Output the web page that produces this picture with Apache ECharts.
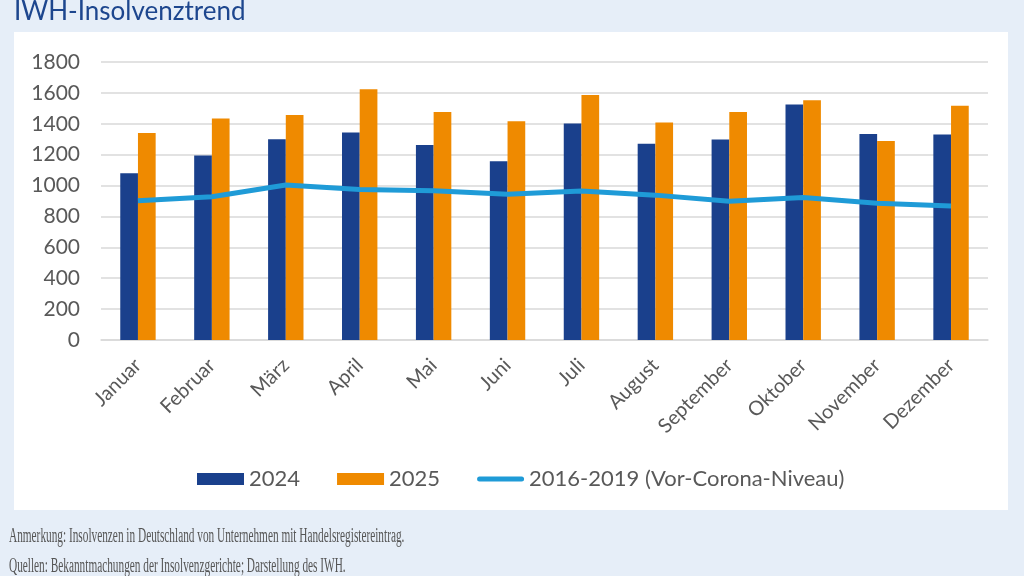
<!DOCTYPE html>
<html>

<head>
    <meta charset="UTF-8" />
    <title>IWH-Insolvenztrend</title>
    <style>
        html, body { margin: 0; padding: 0; background: #e6eef8; }
        #A { width: 1024px; height: 576px; }
    </style>
</head>

<body>
    <div id="A"></div>
    <script src="https://cdn.jsdelivr.net/npm/echarts@6/dist/echarts.min.js"></script>
    <script>
        // Monate und Werte
        var months = ['Januar', 'Februar', 'März', 'April', 'Mai', 'Juni', 'Juli', 'August', 'September', 'Oktober', 'November', 'Dezember'];
        var values2024 = [1080, 1195, 1300, 1343, 1263, 1158, 1402, 1270, 1298, 1525, 1334, 1330];
        var values2025 = [1341, 1434, 1457, 1624, 1477, 1417, 1587, 1408, 1477, 1552, 1289, 1516];
        var preCorona = [901, 927, 1003, 975, 966, 944, 964, 938, 899, 922, 885, 868];
        var yTicks = { min: 0, max: 1800, interval: 200 };

        var fontMain = 'Lato, "Open Sans", sans-serif';
        var grey = '#595959';
        var footFont = '20px "Liberation Serif", serif';

        var myChart = echarts.init(document.getElementById('A'));
        var option = {
            backgroundColor: '#e6eef8',
            animation: false,
            title: {
                text: 'IWH-Insolvenztrend',
                left: 14,
                top: -1,
                padding: 0,
                textStyle: { fontFamily: fontMain, fontSize: 26, fontWeight: 'normal', color: '#1d468e' }
            },
            graphic: [
                {
                    type: 'rect', z: -10, silent: true,
                    shape: { x: 14, y: 32, width: 994, height: 478 },
                    style: { fill: '#ffffff' }
                },
                {
                    type: 'text', left: 9, top: 527, scaleX: 0.565,
                    style: {
                        text: 'Anmerkung: Insolvenzen in Deutschland von Unternehmen mit Handelsregistereintrag.',
                        font: footFont, fill: '#555555'
                    }
                },
                {
                    type: 'text', left: 9, top: 557, scaleX: 0.565,
                    style: {
                        text: 'Quellen: Bekanntmachungen der Insolvenzgerichte; Darstellung des IWH.',
                        font: footFont, fill: '#555555'
                    }
                }
            ],
            legend: {
                left: 197,
                top: 468,
                padding: 0,
                itemWidth: 47,
                itemHeight: 12,
                itemGap: 37,
                textStyle: { fontFamily: fontMain, fontSize: 22, color: grey },
                data: [
                    { name: '2024', icon: 'rect' },
                    { name: '2025', icon: 'rect' },
                    { name: '2016-2019 (Vor-Corona-Niveau)', icon: 'path://M2.5,0 L44.5,0 A2.5,2.5 0 0 1 44.5,5 L2.5,5 A2.5,2.5 0 0 1 2.5,0 Z' }
                ]
            },
            grid: { left: 101, right: 36, top: 62, bottom: 236, outerBoundsMode: 'none' },
            xAxis: {
                type: 'category',
                data: months,
                axisLine: { lineStyle: { color: '#d9d9d9', width: 1.5 } },
                axisTick: { show: false },
                axisLabel: {
                    rotate: 45,
                    margin: 22,
                    interval: 0,
                    fontFamily: fontMain,
                    fontSize: 20,
                    color: grey
                }
            },
            yAxis: {
                type: 'value',
                min: yTicks.min,
                max: yTicks.max,
                interval: yTicks.interval,
                axisLine: { show: false },
                axisTick: { show: false },
                splitLine: { lineStyle: { color: '#d9d9d9', width: 1.5 } },
                axisLabel: {
                    margin: 21, fontFamily: fontMain, fontSize: 21, color: grey,
                    formatter: function (v) { return String(v); }
                }
            },
            series: [
                {
                    name: '2024',
                    type: 'bar',
                    data: values2024,
                    barWidth: 17.7,
                    barGap: '0%',
                    itemStyle: { color: '#1a408c' }
                },
                {
                    name: '2025',
                    type: 'bar',
                    data: values2025,
                    barWidth: 17.7,
                    itemStyle: { color: '#ef8a00' }
                },
                {
                    name: '2016-2019 (Vor-Corona-Niveau)',
                    type: 'line',
                    data: preCorona,
                    symbol: 'none',
                    z: 5,
                    lineStyle: { color: '#1f9bd7', width: 5 },
                    itemStyle: { color: '#1f9bd7' }
                }
            ]
        };
        myChart.setOption(option);
    </script>
</body>

</html>
